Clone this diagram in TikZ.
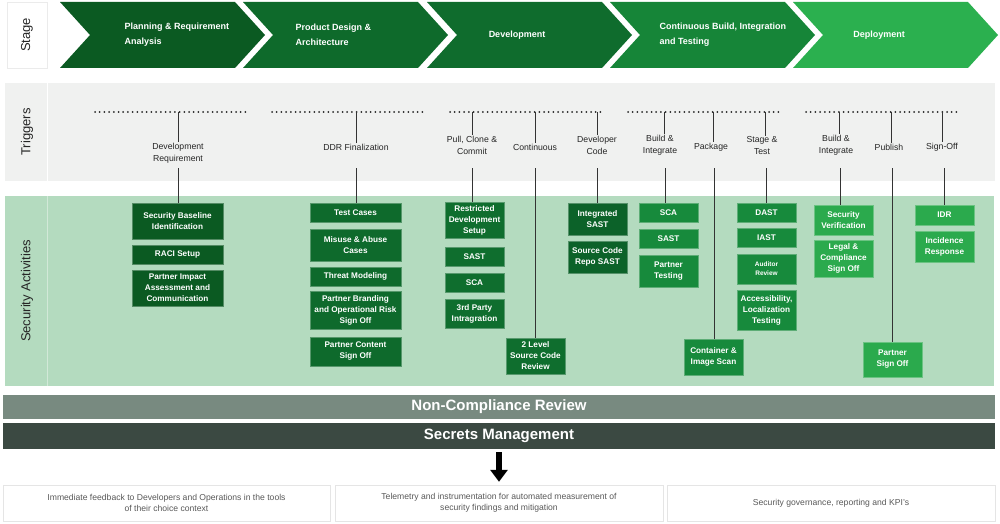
\documentclass[tikz,border=0pt]{standalone}
\usepackage{fontspec}
\setmainfont{Liberation Sans}
\usepackage{xcolor}
\usepackage{tikz}
\usetikzlibrary{arrows.meta}

\definecolor{phaseA}{HTML}{0B5A22}
\definecolor{phaseB}{HTML}{0E6A2B}
\definecolor{phaseC}{HTML}{0F6C2D}
\definecolor{phaseD}{HTML}{168538}
\definecolor{phaseE}{HTML}{2BB04F}
\definecolor{trigbg}{HTML}{F0F1F0}
\definecolor{secbg}{HTML}{B4DBBF}
\definecolor{actA}{HTML}{0B5A22}
\definecolor{actB}{HTML}{0E6A2C}
\definecolor{actC}{HTML}{0F6E2E}
\definecolor{actD}{HTML}{0C6229}
\definecolor{actE}{HTML}{178A3C}
\definecolor{actF}{HTML}{2BAA4D}
\definecolor{ncrgray}{HTML}{788A80}
\definecolor{secgray}{HTML}{3B4942}

\begin{document}
\begin{tikzpicture}[x=1pt, y=-1pt,
  phasetxt/.style={text=white, font=\fontsize{9}{15}\selectfont\bfseries, align=left},
  rowlbl/.style={rotate=90, text=black!85, font=\fontsize{13}{15}\selectfont},
  trig/.style={text=black!85, font=\fontsize{8.7}{12}\selectfont, align=center, inner sep=1pt},
  act/.style={fill=#1, draw=#1!70!white, text=white, font=\fontsize{8.2}{11}\selectfont\bfseries,
    align=center, inner sep=0pt, minimum width=59pt},
  link/.style={draw=black!80, line width=0.8pt},
  dotline/.style={draw=black!85, line width=2pt, line cap=round, dash pattern=on 0pt off 4.7pt},
  bar/.style={text=white, font=\fontsize{15}{16}\selectfont\bfseries, minimum width=992pt, inner sep=0pt},
  note/.style={draw=black!10, fill=white, text=black!65, font=\fontsize{8.6}{11}\selectfont,
    align=center, inner sep=0pt, minimum height=36pt}]
	\useasboundingbox (0,0) rectangle (1000,524);

	% Bands
	\fill[trigbg] (5,83) rectangle (995,181);
	\draw[white, line width=1pt] (47,83) -- (47,181);
	\fill[secbg] (5,196) rectangle (994,386);
	\draw[white!40!secbg, line width=1pt] (47,196) -- (47,386);

	% Stage row
	\node (stg) at (27,35) [draw=black!8, fill=white, rowlbl, minimum width=66pt, minimum height=40pt] {Stage};
	\fill[phaseA] (60,2) -- ++(175,0) -- ++(30,33) -- ++(-30,33) -- ++(-175,0) -- ++(30,-33) -- cycle;
	\fill[phaseB] (243,2) -- ++(175,0) -- ++(30,33) -- ++(-30,33) -- ++(-175,0) -- ++(30,-33) -- cycle;
	\fill[phaseC] (427,2) -- ++(175,0) -- ++(30,33) -- ++(-30,33) -- ++(-175,0) -- ++(30,-33) -- cycle;
	\fill[phaseD] (610,2) -- ++(175,0) -- ++(30,33) -- ++(-30,33) -- ++(-175,0) -- ++(30,-33) -- cycle;
	\fill[phaseE] (793,2) -- ++(175,0) -- ++(30,33) -- ++(-30,33) -- ++(-175,0) -- ++(30,-33) -- cycle;
	\node (p1) at (121,35) [phasetxt, anchor=west] {Planning \& Requirement\\Analysis};
	\node (p2) at (292,35) [phasetxt, anchor=west] {Product Design \&\\Architecture};
	\node (p3) at (517,35) [phasetxt] {Development};
	\node (p4) at (656,35) [phasetxt, anchor=west] {Continuous Build, Integration\\and Testing};
	\node (p5) at (879,35) [phasetxt] {Deployment};

	% Triggers row
	\node (trg) at (27,132) [rowlbl] {Triggers};
	\draw[dotline] (95,112) -- (246,112);
	\draw[dotline] (272,112) -- (424,112);
	\draw[dotline] (450,112) -- (602,112);
	\draw[dotline] (628,112) -- (780,112);
	\draw[dotline] (806,112) -- (958,112);

	\node (g1) at (178,153) [trig] {Development\\Requirement};
	\node (g2) at (356,147) [trig] {DDR Finalization};
	\node (g3) at (472,145) [trig] {Pull, Clone \&\\Commit};
	\node (g4) at (535,147) [trig] {Continuous};
	\node (g5) at (597,145) [trig] {Developer\\Code};
	\node (g6) at (660,145) [trig] {Build \&\\Integrate};
	\node (g7) at (711,147) [trig] {Package};
	\node (g8) at (762,146) [trig] {Stage \&\\Test};
	\node (g9) at (836,145) [trig] {Build \&\\Integrate};
	\node (g10) at (889,147) [trig] {Publish};
	\node (g11) at (942,147) [trig] {Sign-Off};

	\coordinate (d1) at (178,112); \coordinate (s1) at (178,168);
	\coordinate (d2) at (356,112); \coordinate (s2) at (356,168);
	\coordinate (d3) at (472,112); \coordinate (s3) at (472,168);
	\coordinate (d4) at (535,112); \coordinate (s4) at (535,168);
	\coordinate (d5) at (597,112); \coordinate (s5) at (597,168);
	\coordinate (d6) at (664,112); \coordinate (s6) at (665,168);
	\coordinate (d7) at (713,112); \coordinate (s7) at (714,168);
	\coordinate (d8) at (765,112); \coordinate (s8) at (766,168);
	\coordinate (d9) at (839,112); \coordinate (s9) at (840,168);
	\coordinate (d10) at (891,112); \coordinate (s10) at (892,168);
	\coordinate (d11) at (942,112); \coordinate (s11) at (944,168);

	\draw[link] (d1) -- (d1 |- g1.north); \draw[link] (d2) -- (d2 |- g2.north);
	\draw[link] (d3) -- (d3 |- g3.north); \draw[link] (d4) -- (d4 |- g4.north);
	\draw[link] (d5) -- (d5 |- g5.north); \draw[link] (d6) -- (d6 |- g6.north);
	\draw[link] (d7) -- (d7 |- g7.north); \draw[link] (d8) -- (d8 |- g8.north);
	\draw[link] (d9) -- (d9 |- g9.north); \draw[link] (d10) -- (d10 |- g10.north);
	\draw[link] (d11) -- (d11 |- g11.north);

	% Security Activities row
	\node (sa) at (27,291) [rowlbl] {Security Activities};

	\node (b1a) at (177.5,221) [act=actA, minimum width=91pt, minimum height=36pt] {Security Baseline\\Identification};
	\node (b1b) at (177.5,254.5) [act=actA, minimum width=91pt, minimum height=19pt] {RACI Setup};
	\node (b1c) at (177.5,288) [act=actA, minimum width=91pt, minimum height=36pt] {Partner Impact\\Assessment and\\Communication};

	\node (b2a) at (355.5,212.5) [act=actB, minimum width=91pt, minimum height=19pt] {Test Cases};
	\node (b2b) at (355.5,245) [act=actB, minimum width=91pt, minimum height=32pt] {Misuse \& Abuse\\Cases};
	\node (b2c) at (355.5,276.5) [act=actB, minimum width=91pt, minimum height=19pt] {Threat Modeling};
	\node (b2d) at (355.5,310) [act=actB, minimum width=91pt, minimum height=38pt] {Partner Branding\\and Operational Risk\\Sign Off};
	\node (b2e) at (355.5,351.5) [act=actB, minimum width=91pt, minimum height=29pt] {Partner Content\\Sign Off};

	\node (b3a) at (474.5,220) [act=actC, minimum height=36pt] {Restricted\\Development\\Setup};
	\node (b3b) at (474.5,256.5) [act=actC, minimum height=19pt] {SAST};
	\node (b3c) at (474.5,282.5) [act=actC, minimum height=19pt] {SCA};
	\node (b3d) at (474.5,313.5) [act=actC, minimum height=29pt] {3rd Party\\Intragration};
	\node (b4a) at (535.5,356) [act=actC, minimum height=36pt] {2 Level\\Source Code\\Review};

	\node (b5a) at (597.5,219) [act=actD, minimum height=32pt] {Integrated\\SAST};
	\node (b5b) at (597.5,257) [act=actD, minimum height=32pt] {Source Code\\Repo SAST};

	\node (b6a) at (668.5,212.5) [act=actE, minimum height=19pt] {SCA};
	\node (b6b) at (668.5,238.5) [act=actE, minimum height=19pt] {SAST};
	\node (b6c) at (668.5,271) [act=actE, minimum height=32pt] {Partner\\Testing};
	\node (b7a) at (713.5,357) [act=actE, minimum height=36pt] {Container \&\\Image Scan};

	\node (b8a) at (766.5,212.5) [act=actE, minimum height=19pt] {DAST};
	\node (b8b) at (766.5,237.5) [act=actE, minimum height=19pt] {IAST};
	\node (b8c) at (766.5,269) [act=actE, minimum height=30pt, font=\fontsize{6.5}{9}\selectfont\bfseries] {Auditor\\Review};
	\node (b8d) at (766.5,310) [act=actE, minimum height=40pt] {Accessibility,\\Localization\\Testing};

	\node (b9a) at (843.5,220) [act=actF, minimum height=30pt] {Security\\Verification};
	\node (b9b) at (843.5,258.5) [act=actF, minimum height=37pt] {Legal \&\\Compliance\\Sign Off};
	\node (b10a) at (892.5,359.5) [act=actF, minimum height=35pt] {Partner\\Sign Off};

	\node (b11a) at (944.5,215) [act=actF, minimum height=20pt] {IDR};
	\node (b11b) at (944.5,246.5) [act=actF, minimum height=31pt] {Incidence\\Response};

	\draw[link] (s1) -- (s1 |- b1a.north); \draw[link] (s2) -- (s2 |- b2a.north);
	\draw[link] (s3) -- (s3 |- b3a.north); \draw[link] (s4) -- (s4 |- b4a.north);
	\draw[link] (s5) -- (s5 |- b5a.north); \draw[link] (s6) -- (s6 |- b6a.north);
	\draw[link] (s7) -- (s7 |- b7a.north); \draw[link] (s8) -- (s8 |- b8a.north);
	\draw[link] (s9) -- (s9 |- b9a.north); \draw[link] (s10) -- (s10 |- b10a.north);
	\draw[link] (s11) -- (s11 |- b11a.north);

	% Review bars
	\node (ncr) at (499,407) [bar, fill=ncrgray, minimum height=24pt] {Non-Compliance Review};
	\node (sec) at (499,436) [bar, fill=secgray, minimum height=26pt] {Secrets Management};

	% Outcomes
	\node (fb1) at (166.5,503) [note, minimum width=327pt] {Immediate feedback to Developers and Operations in the tools\\of their choice context};
	\node (fb2) at (499,503) [note, minimum width=328pt] {Telemetry and instrumentation for automated measurement of\\security findings and mitigation};
	\node (fb3) at (831,503) [note, minimum width=328pt] {Security governance, reporting and KPI's};
	\draw[-{Triangle[width=17pt,length=12pt]}, line width=5.5pt, shorten <=3pt, shorten >=3pt] (sec) -- (fb2);
\end{tikzpicture}
\end{document}
